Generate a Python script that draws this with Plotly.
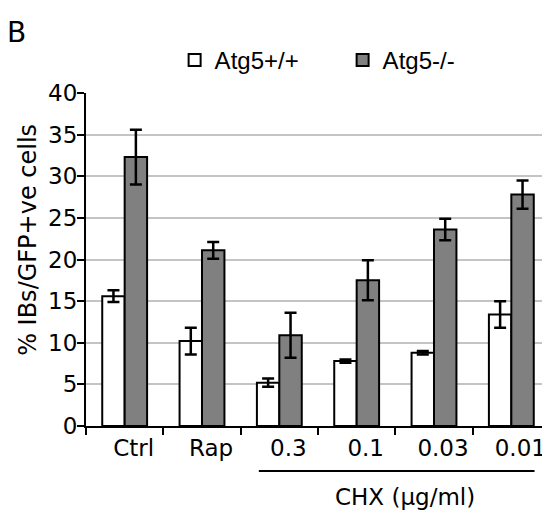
import plotly.graph_objects as go

categories = ["Ctrl", "Rap", "0.3", "0.1", "0.03", "0.01"]
wt_values = [15.6, 10.2, 5.2, 7.8, 8.8, 13.4]
wt_errors = [0.7, 1.6, 0.5, 0.2, 0.2, 1.6]
ko_values = [32.3, 21.1, 10.9, 17.5, 23.6, 27.8]
ko_errors = [3.3, 1.0, 2.7, 2.4, 1.3, 1.7]
y_ticks = [0, 5, 10, 15, 20, 25, 30, 35, 40]

FONT = "DejaVu Sans, sans-serif"
FS = 23

fig = go.Figure()
fig.add_trace(go.Bar(
    x=categories, y=wt_values, name="Atg5+/+",
    marker=dict(color="white", line=dict(color="black", width=2)),
    error_y=dict(type="data", array=wt_errors, color="black", thickness=2.5, width=6),
))
fig.add_trace(go.Bar(
    x=categories, y=ko_values, name="Atg5-/-",
    marker=dict(color="#808080", line=dict(color="black", width=2)),
    error_y=dict(type="data", array=ko_errors, color="black", thickness=2.5, width=6),
))

fig.update_layout(
    width=542, height=510,
    margin=dict(l=78, r=0, t=85, b=92),
    paper_bgcolor="white", plot_bgcolor="white",
    font=dict(family=FONT, size=FS, color="black"),
    barmode="group", bargap=0.42, bargroupgap=0,
    showlegend=True,
    legend=dict(orientation="h", x=0.191, xanchor="left", y=1.03, yanchor="bottom",
                font=dict(family="Liberation Sans, Arial, sans-serif", size=24),
                entrywidth=123, entrywidthmode="pixels",
                bgcolor="rgba(0,0,0,0)", traceorder="normal"),
    xaxis=dict(
        type="category", range=[-0.5, 5.5], automargin=False,
        showline=True, linecolor="black", linewidth=2,
        ticks="outside", tickson="boundaries", ticklen=7, tickwidth=2, tickcolor="black",
        showgrid=False, ticklabelshift=9,
        tickfont=dict(size=FS),
    ),
    yaxis=dict(
        range=[0, 40], tickvals=y_ticks, automargin=False,
        showline=True, linecolor="black", linewidth=2,
        ticks="outside", ticklen=7, tickwidth=2, tickcolor="black",
        showgrid=True, gridcolor="#c4c4c4", gridwidth=1.5,
        zeroline=False, ticklabelstandoff=-5,
        tickfont=dict(size=FS),
    ),
)

fig.add_annotation(text="% IBs/GFP+ve cells", xref="paper", yref="paper", x=-0.125, y=0.559,
                   textangle=-90, showarrow=False, font=dict(size=24),
                   xanchor="center", yanchor="middle")
fig.add_shape(type="line", xref="x", yref="paper", x0=1.735, x1=5.30, y0=-0.135, y1=-0.135,
              line=dict(color="black", width=2))
fig.add_annotation(text="CHX (µg/ml)", xref="x", yref="paper", x=3.63, y=-0.213,
                   showarrow=False, font=dict(size=FS), xanchor="center", yanchor="middle")
fig.add_annotation(text="B", xref="paper", yref="paper", x=-0.174, y=1.182,
                   xanchor="left", yanchor="middle", showarrow=False, font=dict(size=28))

fig.write_html("out.html")
